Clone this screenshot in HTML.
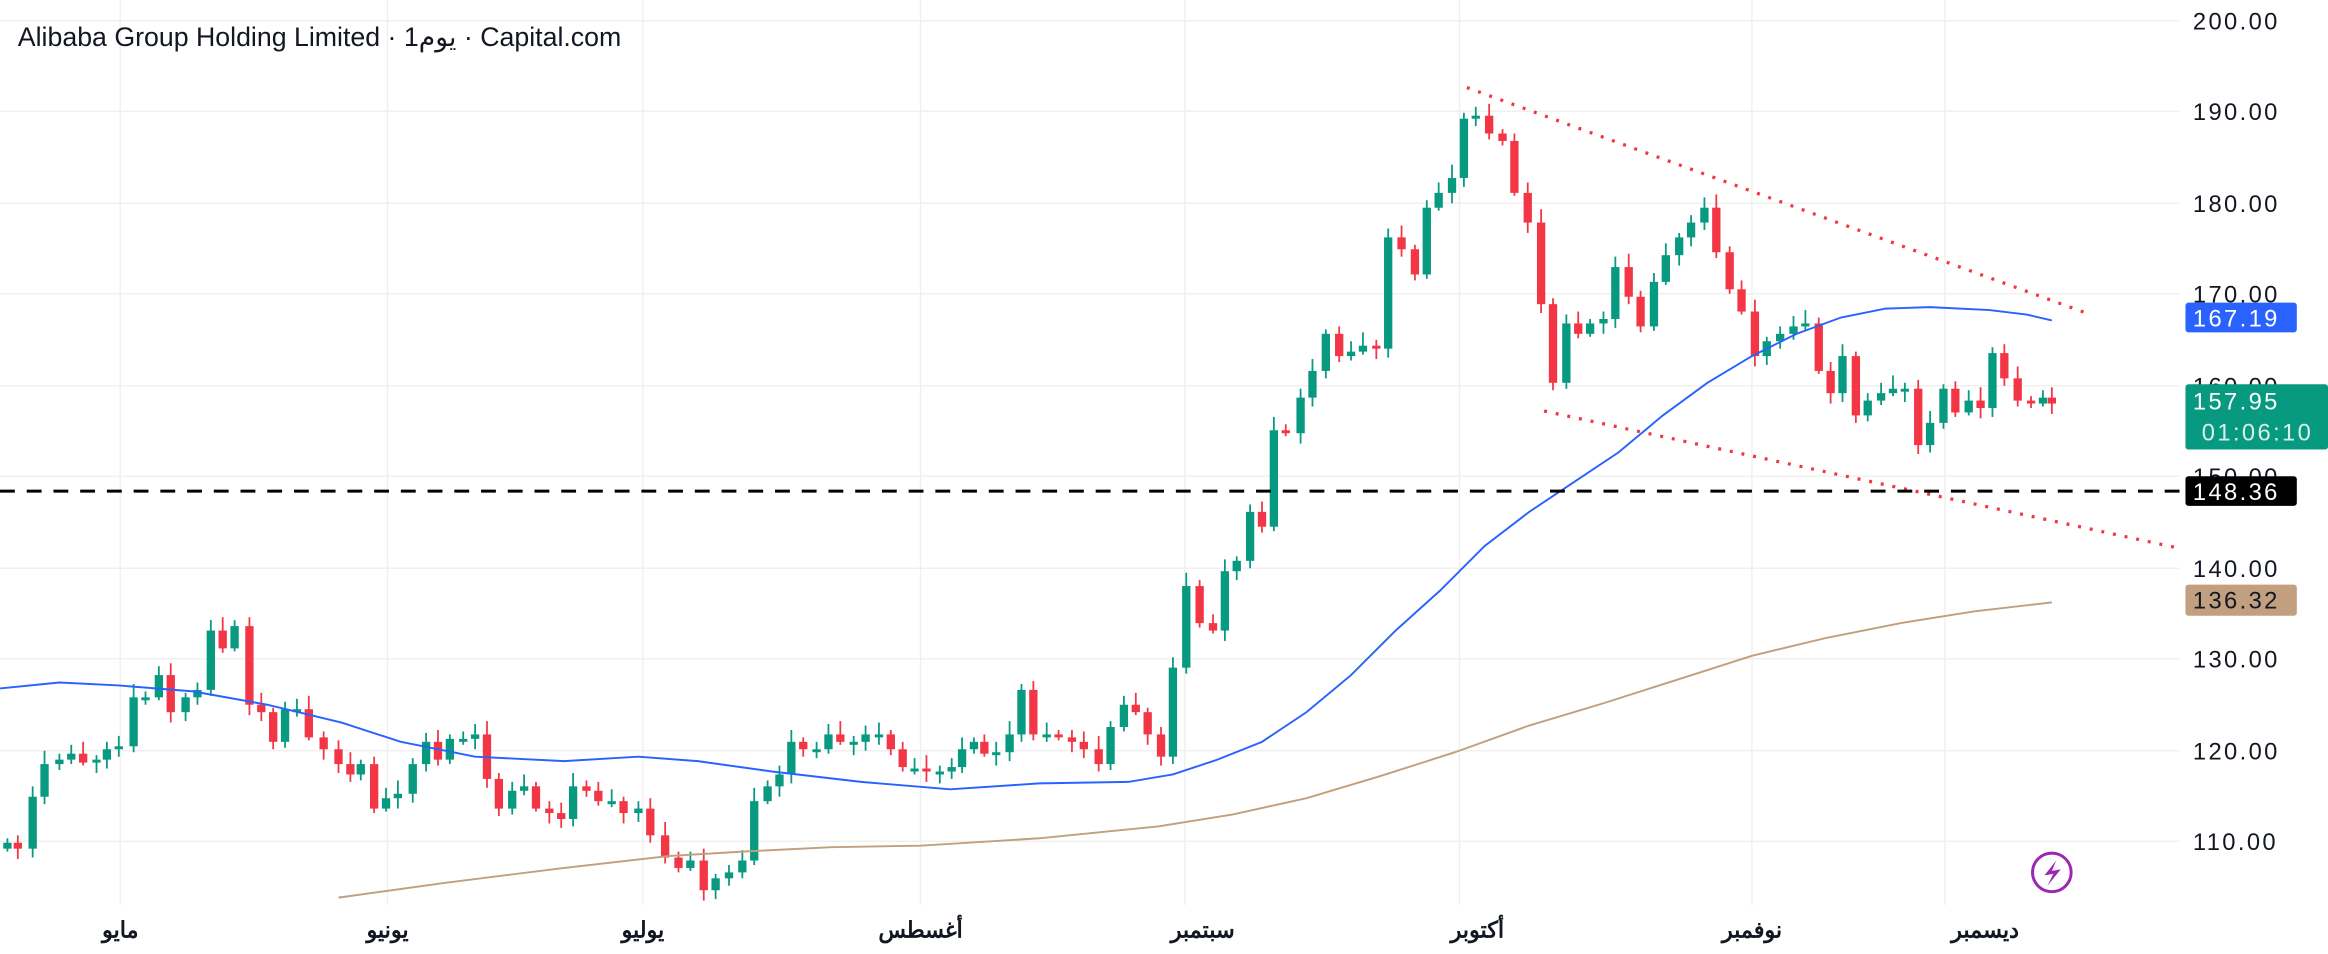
<!DOCTYPE html>
<html><head><meta charset="utf-8"><style>
html,body{margin:0;padding:0;background:#fff;overflow:hidden}
svg{display:block}
text{font-family:"Liberation Sans","Noto Sans CJK SC",sans-serif}
</style></head><body>
<svg id="c" width="2328" height="954" viewBox="0 0 1568 643" preserveAspectRatio="none" xmlns="http://www.w3.org/2000/svg">
<g stroke="#f0f0f0" stroke-width="1">
<line x1="0" x2="1468" y1="14" y2="14"/><line x1="0" x2="1468" y1="75" y2="75"/><line x1="0" x2="1468" y1="137" y2="137"/><line x1="0" x2="1468" y1="198" y2="198"/><line x1="0" x2="1468" y1="260" y2="260"/><line x1="0" x2="1468" y1="321" y2="321"/><line x1="0" x2="1468" y1="383" y2="383"/><line x1="0" x2="1468" y1="444" y2="444"/><line x1="0" x2="1468" y1="506" y2="506"/><line x1="0" x2="1468" y1="567" y2="567"/>
<line x1="81" x2="81" y1="0" y2="610"/><line x1="261" x2="261" y1="0" y2="610"/><line x1="433" x2="433" y1="0" y2="610"/><line x1="620" x2="620" y1="0" y2="610"/><line x1="798" x2="798" y1="0" y2="610"/><line x1="983" x2="983" y1="0" y2="610"/><line x1="1180" x2="1180" y1="0" y2="610"/><line x1="1310" x2="1310" y1="0" y2="610"/>
</g>
<g id="cd"></g>
<polyline fill="none" stroke="#2962ff" stroke-width="1.3" points="0,464 40,460 80,462 130,466 180,475 230,487 270,500 320,510 380,513 430,510 470,513 520,520 580,527 640,532 700,528 760,527 790,522 820,512 850,500 880,480 910,455 940,425 970,398 1000,368 1030,345 1060,325 1090,305 1120,280 1150,258 1180,240 1210,225 1240,214 1270,208 1300,207 1340,209 1365,212 1382,216"/>
<polyline fill="none" stroke="#c19f7f" stroke-width="1.3" points="228,605 300,595 380,585 450,577 500,574 560,571 620,570 700,565 780,557 830,549 880,538 930,523 980,507 1030,489 1080,474 1130,458 1180,442 1230,430 1280,420 1330,412 1382,406"/>
<line x1="988" y1="59" x2="1408" y2="212" stroke="#f23645" stroke-width="2.2" stroke-dasharray="2,6"/>
<line x1="1040" y1="277" x2="1470" y2="370" stroke="#f23645" stroke-width="2.2" stroke-dasharray="2,6"/>
<line x1="0" y1="331" x2="1468" y2="331" stroke="#000" stroke-width="2" stroke-dasharray="10,8"/>
<g font-size="16" fill="#131722" letter-spacing="1.6">
<text x="1477" y="20">200.00</text><text x="1477" y="81">190.00</text><text x="1477" y="143">180.00</text><text x="1477" y="204">170.00</text><text x="1477" y="266">160.00</text><text x="1477" y="327">150.00</text><text x="1477" y="389">140.00</text><text x="1477" y="450">130.00</text><text x="1477" y="512">120.00</text><text x="1477" y="573">110.00</text>
</g>
<rect x="1472" y="204" width="75" height="20" rx="2" fill="#2962ff"/><text x="1477" y="220" font-size="16" letter-spacing="1.6" fill="#fff">167.19</text>
<rect x="1472" y="259" width="96" height="44" rx="2" fill="#089981"/><text x="1477" y="276" font-size="16" letter-spacing="1.6" fill="#fff">157.95</text><text x="1483" y="297" font-size="16" letter-spacing="1.6" fill="#d8f0ea">01:06:10</text>
<rect x="1472" y="321" width="75" height="20" rx="2" fill="#000"/><text x="1477" y="337" font-size="16" letter-spacing="1.6" fill="#fff">148.36</text>
<rect x="1472" y="394" width="75" height="21" rx="2" fill="#c19f7f"/><text x="1477" y="410" font-size="16" letter-spacing="1.6" fill="#131722">136.32</text>
<g font-size="15" fill="#131722" text-anchor="middle" font-weight="bold">
<text x="81" y="632">مايو</text><text x="261" y="632">يونيو</text><text x="433" y="632">يوليو</text><text x="620" y="632">أغسطس</text><text x="810" y="632">سبتمبر</text><text x="995" y="632">أكتوبر</text><text x="1180" y="632">نوفمبر</text><text x="1337" y="632">ديسمبر</text>
</g>
<circle cx="1382" cy="588" r="13" fill="none" stroke="#9c27b0" stroke-width="2"/>
<path d="M1385,580 L1377,590 L1383,589 L1379,597 L1388,586 L1382,587 Z" fill="#9c27b0"/>
<text x="12" y="31" font-size="18" fill="#131722">Alibaba Group Holding Limited · 1يوم · Capital.com</text>
</svg>
<script>
var d=[[5,568],[12,572],[22,537],[30,515],[40,512],[48,508],[56,514],[65,512],[72,505],[80,503],[90,470],[98,470],[107,455],[115,480],[125,470],[133,465],[142,425],[150,437],[158,422],[168,475],[176,480],[184,500],[192,478],[200,478],[208,497],[218,505],[228,515],[236,522],[243,515],[252,545],[260,538],[268,535],[278,515],[287,500],[295,512],[303,498],[312,498],[320,495],[328,525],[336,545],[345,533],[353,530],[361,545],[370,548],[378,552],[386,530],[395,533],[403,540],[412,540],[420,548],[430,545],[438,563],[448,578],[457,585],[465,580],[474,600],[482,592],[491,588],[500,580],[508,540],[517,530],[525,522],[533,500],[541,505],[550,505],[558,495],[566,500],[575,500],[583,495],[592,495],[600,505],[608,517],[616,518],[624,520],[633,520],[641,517],[648,505],[656,500],[663,508],[671,507],[680,495],[688,465],[696,495],[705,495],[713,497],[722,500],[730,505],[740,515],[748,490],[757,475],[765,480],[773,495],[782,510],[790,450],[799,395],[808,420],[817,425],[825,385],[833,378],[842,345],[850,355],[858,290],[866,292],[876,268],[884,250],[893,225],[902,240],[910,237],[918,233],[927,235],[935,160],[944,168],[953,185],[961,140],[969,130],[978,120],[986,80],[994,78],[1003,90],[1012,95],[1020,130],[1029,150],[1038,205],[1046,258],[1055,218],[1063,225],[1071,218],[1080,215],[1088,180],[1097,200],[1105,220],[1114,190],[1122,172],[1131,160],[1139,150],[1148,140],[1156,170],[1165,195],[1173,210],[1182,240],[1190,230],[1199,225],[1208,220],[1216,218],[1225,250],[1233,265],[1241,240],[1250,280],[1258,270],[1267,265],[1275,262],[1283,262],[1292,300],[1300,285],[1309,262],[1317,278],[1326,270],[1334,275],[1342,238],[1350,255],[1359,270],[1368,272],[1376,268],[1382,272]];
var g=document.getElementById('cd'),s='',p=d[0][1]+4;
for(var i=0;i<d.length;i++){var x=d[i][0],c=d[i][1],o=p;if(Math.abs(o-c)<2){o=c+2;}
var up=c<o,col=up?'#089981':'#f23645',t=Math.min(o,c),b=Math.max(o,c),w=(i*37%7)+3;
s+='<line x1="'+x+'" x2="'+x+'" y1="'+(t-w)+'" y2="'+(b+(i*53%6)+2)+'" stroke="'+col+'" stroke-width="1.2"/>';
s+='<rect x="'+(x-2.8)+'" y="'+t+'" width="5.6" height="'+Math.max(b-t,2)+'" fill="'+col+'"/>';p=c;}
g.innerHTML=s;
</script>
</body></html>
